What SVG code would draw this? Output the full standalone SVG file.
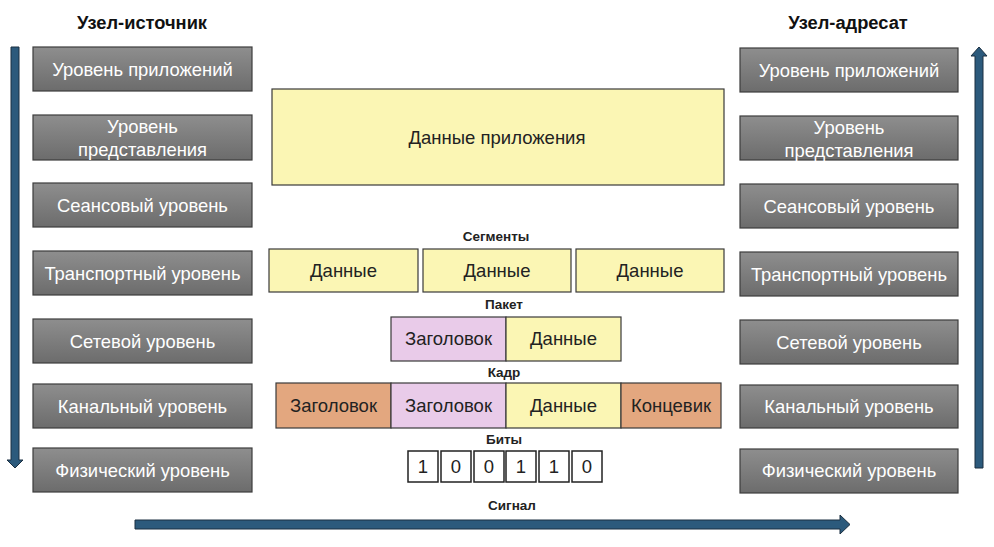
<svg xmlns="http://www.w3.org/2000/svg" width="994" height="547" viewBox="0 0 994 547">
<defs>
<linearGradient id="g" x1="0" y1="0" x2="0" y2="1">
<stop offset="0" stop-color="#8e8e8e"/>
<stop offset="1" stop-color="#6c6c6c"/>
</linearGradient>
</defs>
<style>
.layer{fill:url(#g);stroke:#3c3c3c;stroke-width:1.2}
.lt{font-family:"Liberation Sans",Arial,sans-serif;font-size:18.4px;fill:#ffffff;text-anchor:middle}
.title{font-family:"Liberation Sans",Arial,sans-serif;font-size:18.3px;font-weight:bold;fill:#111;text-anchor:middle}
.lbl{font-family:"Liberation Sans",Arial,sans-serif;font-size:13.5px;font-weight:bold;fill:#222;text-anchor:middle}
.ct{font-family:"Liberation Sans",Arial,sans-serif;font-size:18.5px;fill:#222;text-anchor:middle}
.y{fill:#fbf6b4;stroke:#3a3a3a;stroke-width:1.2}
.p{fill:#e9cbe9;stroke:#3a3a3a;stroke-width:1.2}
.o{fill:#e3a77f;stroke:#3a3a3a;stroke-width:1.2}
.b{fill:#ffffff;stroke:#222;stroke-width:1.5}
.arr{fill:#2c5a7c;stroke:#1b2f40;stroke-width:1}
</style>
<rect width="994" height="547" fill="#ffffff"/>
<text class="title" x="142" y="29">Узел-источник</text>
<text class="title" x="848" y="29">Узел-адресат</text>

<g id="src">
<g id="src1"><rect class="layer" x="33" y="47" width="219" height="44"/><text class="lt" x="142.5" y="76">Уровень приложений</text></g>
<g id="src2"><rect class="layer" x="33" y="115" width="219" height="45"/><text class="lt" x="142.5" y="133">Уровень</text><text class="lt" x="142.5" y="156">представления</text></g>
<g id="src3"><rect class="layer" x="33" y="183" width="219" height="44"/><text class="lt" x="142.5" y="212">Сеансовый уровень</text></g>
<g id="src4"><rect class="layer" x="33" y="251" width="219" height="44"/><text class="lt" x="142.5" y="280">Транспортный уровень</text></g>
<g id="src5"><rect class="layer" x="33" y="319" width="219" height="44"/><text class="lt" x="142.5" y="348">Сетевой уровень</text></g>
<g id="src6"><rect class="layer" x="33" y="384" width="219" height="44"/><text class="lt" x="142.5" y="413">Канальный уровень</text></g>
<g id="src7"><rect class="layer" x="33" y="448" width="219" height="44"/><text class="lt" x="142.5" y="477">Физический уровень</text></g>
</g>

<g id="dst">
<g id="dst1"><rect class="layer" x="740" y="48" width="218" height="44"/><text class="lt" x="849" y="77">Уровень приложений</text></g>
<g id="dst2"><rect class="layer" x="740" y="116" width="218" height="44"/><text class="lt" x="849" y="134">Уровень</text><text class="lt" x="849" y="157">представления</text></g>
<g id="dst3"><rect class="layer" x="740" y="184" width="218" height="44"/><text class="lt" x="849" y="213">Сеансовый уровень</text></g>
<g id="dst4"><rect class="layer" x="740" y="252" width="218" height="44"/><text class="lt" x="849" y="281">Транспортный уровень</text></g>
<g id="dst5"><rect class="layer" x="740" y="320" width="218" height="44"/><text class="lt" x="849" y="349">Сетевой уровень</text></g>
<g id="dst6"><rect class="layer" x="740" y="385" width="218" height="43"/><text class="lt" x="849" y="413">Канальный уровень</text></g>
<g id="dst7"><rect class="layer" x="740" y="449" width="218" height="44"/><text class="lt" x="849" y="477">Физический уровень</text></g>
</g>

<g id="appdata"><rect class="y" x="272" y="89" width="452" height="96"/><text class="ct" x="497" y="144">Данные приложения</text></g>

<text class="lbl" x="496" y="241">Сегменты</text>
<g id="segments">
<rect class="y" x="269" y="249" width="149" height="43"/><text class="ct" x="343.5" y="277">Данные</text>
<rect class="y" x="423" y="249" width="148" height="43"/><text class="ct" x="497" y="277">Данные</text>
<rect class="y" x="576" y="249" width="148" height="43"/><text class="ct" x="650" y="277">Данные</text>
</g>

<text class="lbl" x="504" y="309">Пакет</text>
<g id="packet">
<rect class="p" x="391" y="317" width="115" height="44"/><text class="ct" x="448.5" y="345">Заголовок</text>
<rect class="y" x="506" y="317" width="115" height="44"/><text class="ct" x="563.5" y="345">Данные</text>
</g>

<text class="lbl" x="504" y="377">Кадр</text>
<g id="frame">
<rect class="o" x="276" y="383" width="115" height="45"/><text class="ct" x="333.5" y="412">Заголовок</text>
<rect class="p" x="391" y="383" width="115" height="45"/><text class="ct" x="448.5" y="412">Заголовок</text>
<rect class="y" x="506" y="383" width="115" height="45"/><text class="ct" x="563.5" y="412">Данные</text>
<rect class="o" x="621" y="383" width="100" height="45"/><text class="ct" x="671" y="412">Концевик</text>
</g>

<text class="lbl" x="504" y="444">Биты</text>
<g id="bits">
<rect class="b" x="408" y="451" width="30" height="31"/><text class="ct" x="423" y="473">1</text>
<rect class="b" x="441" y="451" width="30" height="31"/><text class="ct" x="456" y="473">0</text>
<rect class="b" x="474" y="451" width="30" height="31"/><text class="ct" x="489" y="473">0</text>
<rect class="b" x="506" y="451" width="30" height="31"/><text class="ct" x="521" y="473">1</text>
<rect class="b" x="539" y="451" width="30" height="31"/><text class="ct" x="554" y="473">1</text>
<rect class="b" x="572" y="451" width="30" height="31"/><text class="ct" x="587" y="473">0</text>
</g>

<text class="lbl" x="512" y="510">Сигнал</text>

<g id="connectors">
<path class="arr" d="M11,47 L19,47 L19,460 L23,460 L15,468 L7,460 L11,460 Z"/>
<path class="arr" d="M975,468 L983,468 L983,56 L987,56 L979,47 L971,56 L975,56 Z"/>
<path class="arr" d="M135,520 L840,520 L840,515 L850,524.5 L840,534 L840,529 L135,529 Z"/>
</g>
</svg>
